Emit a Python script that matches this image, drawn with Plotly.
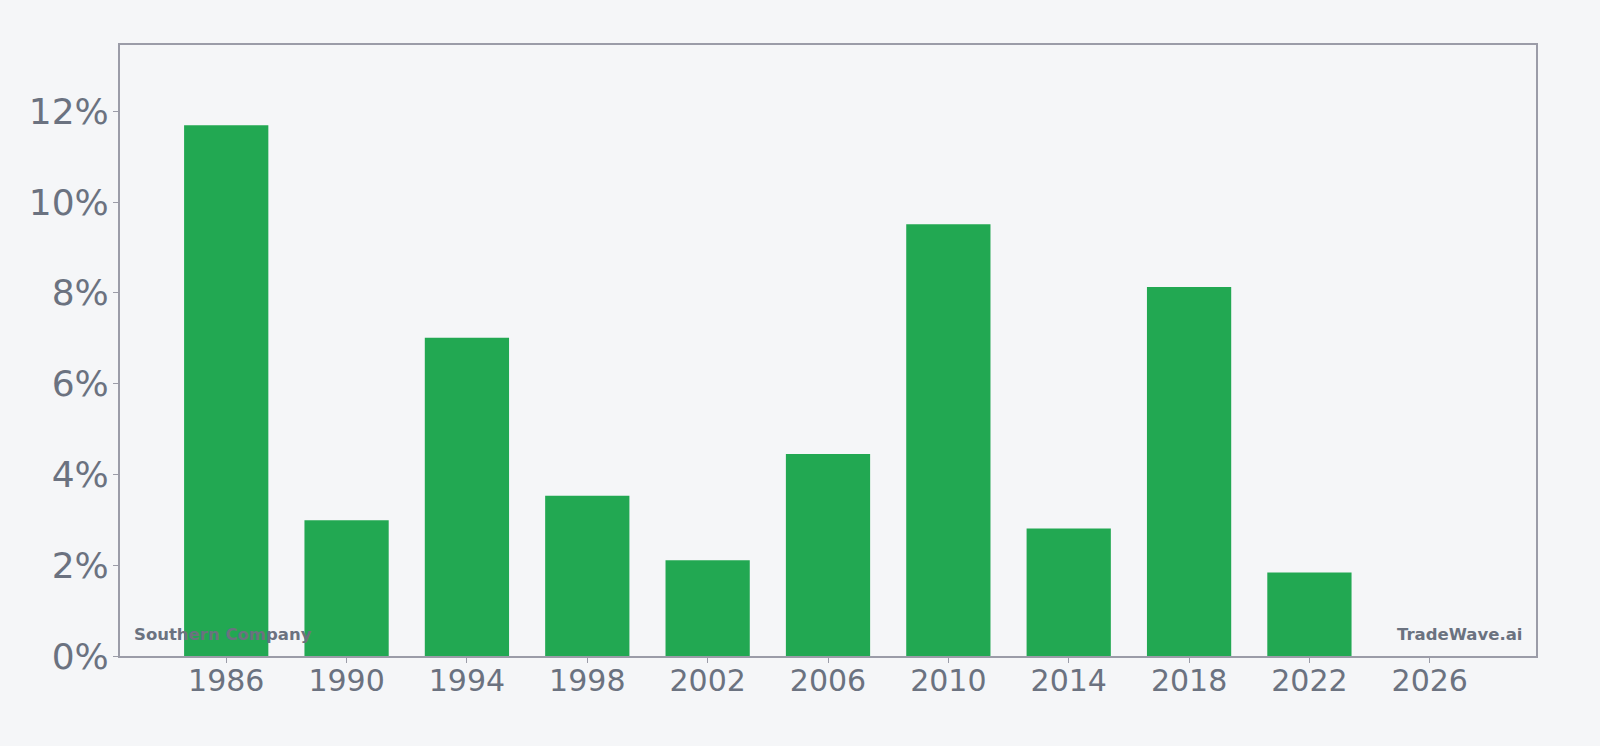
import plotly.graph_objects as go

years = [1986, 1990, 1994, 1998, 2002, 2006, 2010, 2014, 2018, 2022]
growth = [11.69, 2.99, 7.01, 3.53, 2.11, 4.45, 9.51, 2.81, 8.13, 1.84]
tick_years = [1986, 1990, 1994, 1998, 2002, 2006, 2010, 2014, 2018, 2022, 2026]
tick_pct = [0, 2, 4, 6, 8, 10, 12]

grey = "#6b7280"
edge = "#9b9ca8"
bg = "#f5f6f8"

fig = go.Figure()
fig.add_trace(go.Bar(x=years, y=growth, width=2.8,
                     marker=dict(color="#22a852", line=dict(width=0))))

fig.update_layout(
    autosize=True,
    paper_bgcolor=bg, plot_bgcolor=bg,
    margin=dict(l=120, r=64, t=45, b=90),
    font=dict(family="DejaVu Sans", color=grey),
    showlegend=False,
)
fig.update_xaxes(range=[1982.47, 2029.53], tickvals=tick_years,
                 ticktext=[str(t) for t in tick_years],
                 tickfont=dict(size=30, color=grey),
                 showline=True, linecolor=edge, linewidth=2, mirror=True,
                 ticks="outside", ticklen=5, tickcolor=edge, showgrid=False,
                 zeroline=False, ticklabelstandoff=-8)
fig.update_yaxes(range=[0, 13.46], tickvals=tick_pct,
                 ticktext=[f"{t}%" for t in tick_pct],
                 tickfont=dict(size=36, color=grey),
                 showline=True, linecolor=edge, linewidth=2, mirror=True,
                 ticks="outside", ticklen=5, tickcolor=edge, showgrid=False,
                 zeroline=False, ticklabelstandoff=-3)

fig.add_annotation(text="<b>Southern Company</b>", xref="paper", yref="paper",
                   x=0, y=0, xanchor="left", yanchor="bottom", xshift=12, yshift=10,
                   showarrow=False, font=dict(size=16.5, color=grey))
fig.add_annotation(text="<b>TradeWave.ai</b>", xref="paper", yref="paper",
                   x=1, y=0, xanchor="right", yanchor="bottom", xshift=-12, yshift=10,
                   showarrow=False, font=dict(size=16.5, color=grey))

# fill the window exactly: no page margin, no scrollbars
post = ("document.body.style.margin='0';"
        "document.body.style.overflow='hidden';"
        "document.body.style.background='%s';"
        "Plotly.Plots.resize(document.getElementById('{plot_id}'));" % bg)
fig.write_html("out.html", config={"displayModeBar": False},
               default_width="100vw", default_height="100vh",
               post_script=post)
